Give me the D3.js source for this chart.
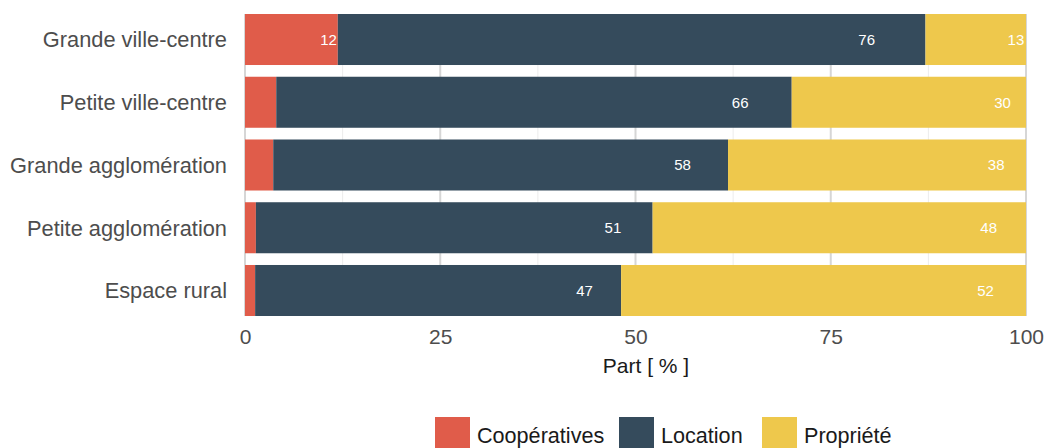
<!DOCTYPE html>
<html>
<head>
<meta charset="utf-8">
<script src="https://cdn.jsdelivr.net/npm/d3@7"></script>
<style>
  html, body { margin: 0; padding: 0; background: #ffffff; }
  svg { display: block; font-family: "Liberation Sans", Arial, Helvetica, sans-serif; }
</style>
</head>
<body>
<svg id="chart" width="1047" height="448"></svg>
<script>
// Housing tenure by type of territory (share in %)
const categories = [
  "Grande ville-centre",
  "Petite ville-centre",
  "Grande agglomération",
  "Petite agglomération",
  "Espace rural"
];
const seriesNames = ["Coopératives", "Location", "Propriété"];
const cooperativesShare = [12, 4, 3.6, 1.4, 1.3];
const locationShare = [76, 66, 58, 51, 47];
const proprieteShare = [13, 30, 38, 48, 52];
const xTicks = [0, 25, 50, 75, 100];
const xMinorTicks = [12.5, 37.5, 62.5, 87.5];
const axisTitle = "Part [ % ]";

const colors = ["#E05C4A", "#354B5C", "#EEC84C"];

const rows = categories.map((c, i) => ({
  category: c,
  "Coopératives": cooperativesShare[i],
  "Location": locationShare[i],
  "Propriété": proprieteShare[i]
}));

const svg = d3.select("#chart");
const margin = { left: 245, top: 14 };

const x = d3.scaleLinear().domain([0, 100]).range([margin.left, 1026]);
const y = d3.scaleBand().domain(categories)
  .range([margin.top, 316]).paddingInner(0.187).paddingOuter(0);

const color = d3.scaleOrdinal().domain(seriesNames).range(colors);

// each bar is rescaled to sum to 100 %
const stacked = d3.stack().keys(seriesNames).offset(d3.stackOffsetExpand)(rows);

// grid
const grid = svg.append("g");
grid.selectAll("line.minor").data(xMinorTicks).join("line")
  .attr("class", "minor")
  .attr("x1", d => x(d)).attr("x2", d => x(d))
  .attr("y1", y.range()[0]).attr("y2", y.range()[1])
  .attr("stroke", "#ececec").attr("stroke-width", 1);
grid.selectAll("line.major").data(xTicks).join("line")
  .attr("class", "major")
  .attr("x1", d => x(d)).attr("x2", d => x(d))
  .attr("y1", y.range()[0]).attr("y2", y.range()[1])
  .attr("stroke", "#d6d6d6").attr("stroke-width", 2);

// bars
const layers = svg.append("g").selectAll("g").data(stacked).join("g")
  .attr("fill", d => color(d.key));
layers.selectAll("rect").data(d => d).join("rect")
  .attr("x", d => x(d[0] * 100))
  .attr("width", d => x(d[1] * 100) - x(d[0] * 100))
  .attr("y", d => y(d.data.category))
  .attr("height", y.bandwidth());

// value labels, placed at 90 % of each segment
const labels = svg.append("g");
stacked.forEach(layer => {
  layer.forEach(d => {
    const v = d.data[layer.key];
    if (v < 5) return;
    const pos = d[0] + 0.9 * (d[1] - d[0]);
    labels.append("text")
      .attr("x", x(pos * 100))
      .attr("y", y(d.data.category) + y.bandwidth() / 2)
      .attr("dy", "0.36em")
      .attr("text-anchor", "middle")
      .attr("fill", "#ffffff")
      .attr("font-size", 15)
      .text(Math.round(v));
  });
});

// y axis labels
const yAxis = svg.append("g")
  .attr("transform", `translate(${margin.left - 18},0)`)
  .call(d3.axisLeft(y).tickSize(0).tickPadding(0));
yAxis.select(".domain").remove();
yAxis.selectAll("text")
  .attr("font-size", 21.8)
  .attr("fill", "#4d4d4d")
  .attr("dy", "0.36em")
  .attr("font-family", "Liberation Sans, Arial, sans-serif");

// x axis labels
const xAxis = svg.append("g")
  .attr("transform", `translate(0,${y.range()[1]})`)
  .call(d3.axisBottom(x).tickValues(xTicks).tickSize(0).tickPadding(13));
xAxis.select(".domain").remove();
xAxis.selectAll("text")
  .attr("font-size", 21)
  .attr("fill", "#4d4d4d")
  .attr("font-family", "Liberation Sans, Arial, sans-serif");

// axis title
svg.append("text")
  .attr("x", 646).attr("y", 373)
  .attr("text-anchor", "middle")
  .attr("font-size", 21)
  .attr("fill", "#1a1a1a")
  .text(axisTitle);

// legend
const legendX = [435, 619, 762];
const legend = svg.append("g").selectAll("g").data(seriesNames).join("g")
  .attr("transform", (d, i) => `translate(${legendX[i]},417)`);
legend.append("rect")
  .attr("width", 35).attr("height", 35)
  .attr("fill", d => color(d));
legend.append("text")
  .attr("x", 42).attr("y", 26)
  .attr("font-size", 21.6)
  .attr("fill", "#1a1a1a")
  .text(d => d);
</script>
</body>
</html>
